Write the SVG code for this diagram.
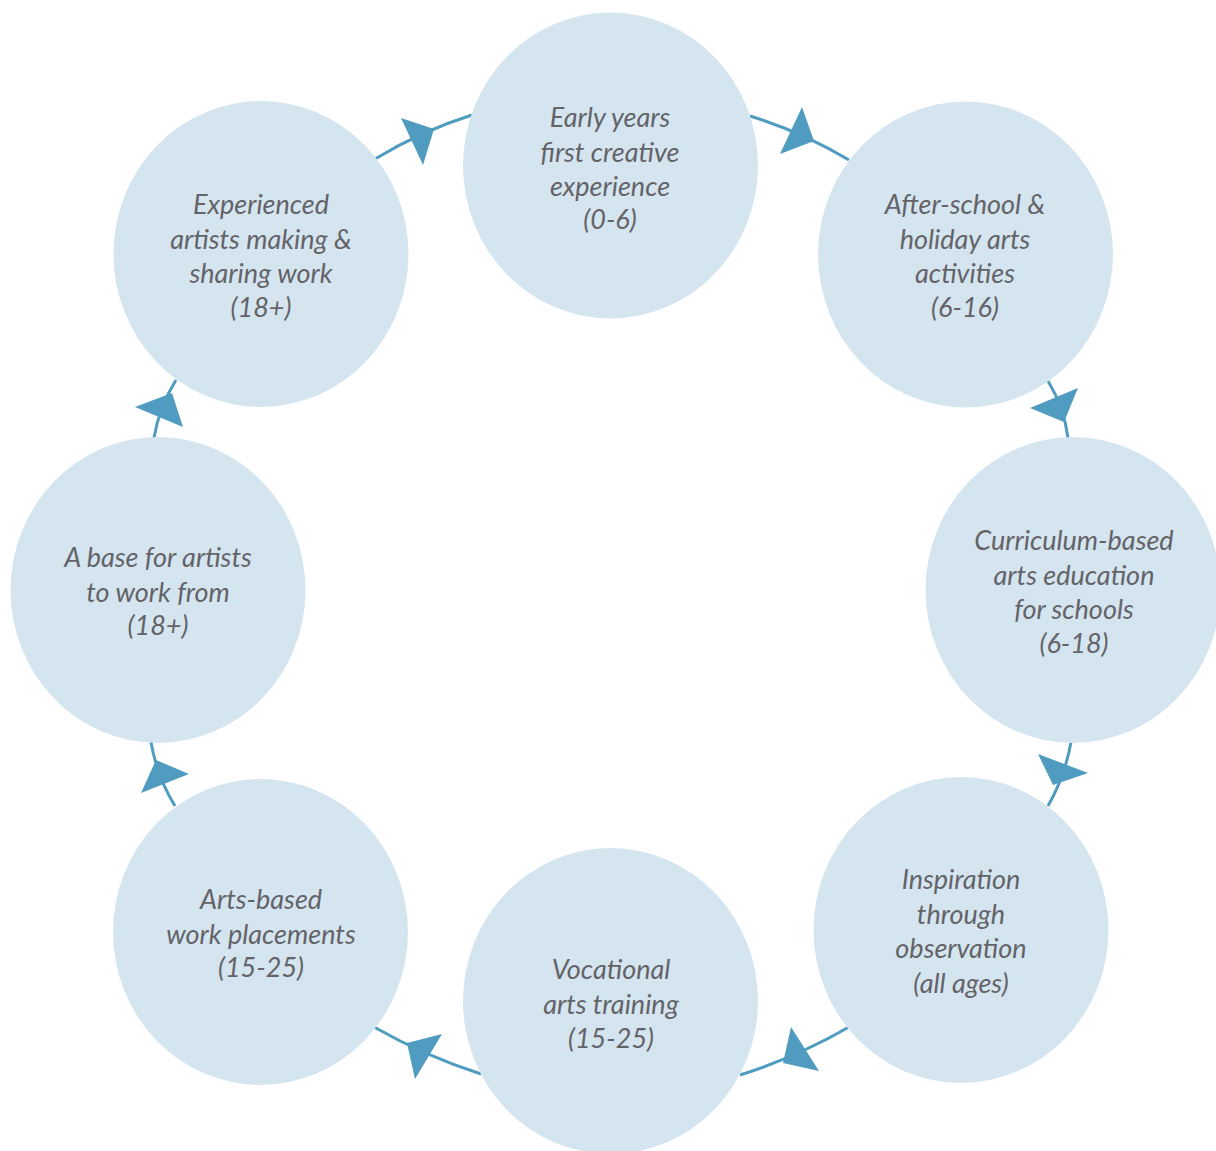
<svg xmlns="http://www.w3.org/2000/svg" width="1216" height="1151" viewBox="0 0 1216 1151">
<style>
.c{fill:#d5e5f0}
.t{font-family:Lato,"Open Sans","Liberation Sans",sans-serif;font-style:italic;font-size:27px;fill:#636368;text-anchor:middle}
.l{fill:none;stroke:#4f9cc0;stroke-width:3}
.a{fill:#4f9cc0}
</style>
<rect width="1216" height="1151" fill="#ffffff"/>
<g id="connectors">
<path class="l" d="M750,116 Q802,132 849,160"/>
<path class="l" d="M1048,381 Q1064,407 1068,438"/>
<path class="l" d="M1071,742 Q1065,776 1048,806"/>
<path class="l" d="M849,1027 Q797,1057 740,1075"/>
<path class="l" d="M481,1074 Q425,1056 374,1027"/>
<path class="l" d="M175,806 Q157,777 151,742"/>
<path class="l" d="M154,438 Q159,407 176,380"/>
<path class="l" d="M375,159 Q421,131 472,115"/>
<polygon class="a" points="802,107 780,154 814,141"/>
<polygon class="a" points="1078,388 1030,408 1064,422"/>
<polygon class="a" points="1038,754 1088,773 1053,785"/>
<polygon class="a" points="791,1027 819,1071 783,1063"/>
<polygon class="a" points="442,1034 415,1079 407,1043"/>
<polygon class="a" points="189,774 141,793 156,760"/>
<polygon class="a" points="135,407 183,427 172,393"/>
<polygon class="a" points="401,118 423,165 434,129"/>
</g>
<g id="n1"><ellipse class="c" cx="610.5" cy="165.5" rx="147.5" ry="153"/>
<text class="t" x="610" y="127">Early years</text><text class="t" x="610" y="162">first creative</text><text class="t" x="610" y="196">experience</text><text class="t" x="610" y="229">(0-6)</text></g>
<g id="n2"><ellipse class="c" cx="965.5" cy="254.5" rx="147.5" ry="153"/>
<text class="t" x="965" y="214">After-school &amp;</text><text class="t" x="965" y="249">holiday arts</text><text class="t" x="965" y="283">activities</text><text class="t" x="965" y="317">(6-16)</text></g>
<g id="n3"><ellipse class="c" cx="1073" cy="590" rx="147.5" ry="153"/>
<text class="t" x="1074" y="550">Curriculum-based</text><text class="t" x="1074" y="585">arts education</text><text class="t" x="1074" y="619">for schools</text><text class="t" x="1074" y="653">(6-18)</text></g>
<g id="n4"><ellipse class="c" cx="961" cy="930" rx="147.5" ry="153"/>
<text class="t" x="961" y="889">Inspiration</text><text class="t" x="961" y="924">through</text><text class="t" x="961" y="958">observation</text><text class="t" x="961" y="993">(all ages)</text></g>
<g id="n5"><ellipse class="c" cx="610.5" cy="1001" rx="147.5" ry="153"/>
<text class="t" x="611" y="979">Vocational</text><text class="t" x="611" y="1014">arts training</text><text class="t" x="611" y="1048">(15-25)</text></g>
<g id="n6"><ellipse class="c" cx="260.5" cy="932" rx="147.5" ry="153"/>
<text class="t" x="261" y="909">Arts-based</text><text class="t" x="261" y="944">work placements</text><text class="t" x="261" y="977">(15-25)</text></g>
<g id="n7"><ellipse class="c" cx="158" cy="590" rx="147.5" ry="153"/>
<text class="t" x="158" y="567">A base for artists</text><text class="t" x="158" y="602">to work from</text><text class="t" x="158" y="635">(18+)</text></g>
<g id="n8"><ellipse class="c" cx="261" cy="254" rx="147.5" ry="153"/>
<text class="t" x="261" y="214">Experienced</text><text class="t" x="261" y="249">artists making &amp;</text><text class="t" x="261" y="283">sharing work</text><text class="t" x="261" y="317">(18+)</text></g>
</svg>
